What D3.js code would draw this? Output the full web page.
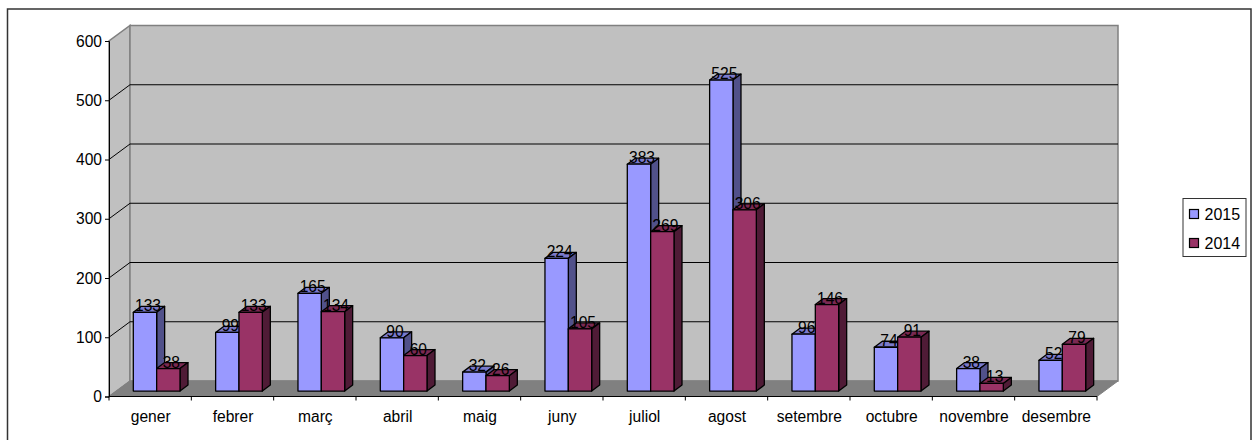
<!DOCTYPE html>
<html>
<head>
<meta charset="utf-8">
<script src="https://cdnjs.cloudflare.com/ajax/libs/d3/7.8.5/d3.min.js"></script>
<style>
html, body { margin: 0; padding: 0; background: #fff; }
svg { display: block; }
text { font-family: "Liberation Sans", Arial, sans-serif; fill: #000; }
</style>
</head>
<body>
<svg id="chart" width="1260" height="440"></svg>
<script>
var months = ["gener", "febrer", "març", "abril", "maig", "juny", "juliol", "agost", "setembre", "octubre", "novembre", "desembre"];
var values2015 = [133, 99, 165, 90, 32, 224, 383, 525, 96, 74, 38, 52];
var values2014 = [38, 133, 134, 60, 26, 105, 269, 306, 146, 91, 13, 79];
var yTicks = [0, 100, 200, 300, 400, 500, 600];
var seriesNames = ["2015", "2014"];

var svg = d3.select("#chart");

var margin = {left: 109, right: 1097, top: 41, bottom: 396.5};
var wallDx = 21, wallDy = -15.5;   // floor depth
var barDx = 8, barDy = -6;         // bar depth
var barLift = -5.4;                // bars stand a bit inside the floor
var fontSize = "15.6px";

var x = d3.scaleBand().domain(months).range([margin.left, margin.right]);
var y = d3.scaleLinear().domain([0, 600]).range([margin.bottom, margin.top]);
var inner = d3.scaleBand().domain(seriesNames).range([24.3, 71]);

var colors = {"2015": {front: "#9999ff", top: "#7a7acc", side: "#51518a"},
              "2014": {front: "#993366", top: "#7a2952", side: "#4f1b36"}};

// outer frame, its bottom edge is cut off by the page
svg.append("rect")
    .attr("x", 7.5).attr("y", 9)
    .attr("width", 1243.5).attr("height", 440)
    .attr("fill", "#fff").attr("stroke", "#333").attr("stroke-width", 1.5);

// left wall, back wall, floor
var x0 = margin.left, x1 = margin.right, y0 = y(0), yTop = y(600);
svg.append("polygon")
    .attr("points", [[x0, y0], [x0 + wallDx, y0 + wallDy], [x0 + wallDx, yTop + wallDy], [x0, yTop]].join(" "))
    .attr("fill", "#c0c0c0").attr("stroke", "#808080").attr("stroke-width", 1.5);
svg.append("rect")
    .attr("x", x0 + wallDx).attr("y", yTop + wallDy)
    .attr("width", x1 - x0).attr("height", y0 - yTop)
    .attr("fill", "#c0c0c0").attr("stroke", "#808080").attr("stroke-width", 1.5);
svg.append("polygon")
    .attr("points", [[x0, y0], [x1, y0], [x1 + wallDx, y0 + wallDy], [x0 + wallDx, y0 + wallDy]].join(" "))
    .attr("fill", "#808080").attr("stroke", "#808080");

// gridlines on wall
yTicks.slice(1, -1).forEach(function(t) {
    svg.append("polyline")
        .attr("points", [[x0, y(t)], [x0 + wallDx, y(t) + wallDy], [x1 + wallDx, y(t) + wallDy]].join(" "))
        .attr("fill", "none").attr("stroke", "#000").attr("stroke-width", 1);
});

// axes
var yAxis = d3.axisLeft(y).tickValues(yTicks).tickSize(4).tickPadding(3);
var gy = svg.append("g").attr("transform", "translate(" + x0 + ",0)").call(yAxis);
gy.selectAll("text").style("font-size", fontSize).attr("font-family", null);
gy.selectAll("line").attr("stroke", "#000");
gy.select(".domain").attr("stroke", "#000");

var gx = svg.append("g").attr("transform", "translate(0," + y0 + ")");
gx.append("line").attr("x1", x0).attr("x2", x1).attr("stroke", "#000");
gx.selectAll("line.tick")
    .data(months.concat(["end"])).enter().append("line")
    .attr("class", "tick")
    .attr("x1", function(d, i) { return x0 + i * x.bandwidth(); })
    .attr("x2", function(d, i) { return x0 + i * x.bandwidth(); })
    .attr("y1", 0).attr("y2", 4)
    .attr("stroke", "#000");
gx.selectAll("text.month")
    .data(months).enter().append("text")
    .attr("class", "month")
    .attr("x", function(d) { return x(d) + x.bandwidth() / 2 + 0.5; })
    .attr("y", 25)
    .attr("text-anchor", "middle")
    .style("font-size", fontSize)
    .text(function(d) { return d; });

// bars, back series first so the 2014 front sits over the 2015 side
function drawBars(name, vals) {
    var c = colors[name];
    var g = svg.append("g").attr("class", "series-" + name);
    var w = inner.bandwidth();
    months.forEach(function(m, i) {
        var left = x(m) + inner(name), right = left + w;
        var base = y(0) + barLift, top = y(vals[i]) + barLift;
        var b = g.append("g");
        b.append("polygon")
            .attr("points", [[left, top], [left + barDx, top + barDy], [right + barDx, top + barDy], [right, top]].join(" "))
            .attr("fill", c.top);
        b.append("polygon")
            .attr("points", [[right, top], [right + barDx, top + barDy], [right + barDx, base + barDy], [right, base]].join(" "))
            .attr("fill", c.side);
        b.append("rect")
            .attr("x", left).attr("y", top)
            .attr("width", w).attr("height", base - top)
            .attr("fill", c.front);
        b.selectAll("polygon, rect")
            .attr("stroke", "#000").attr("stroke-width", 1.3).attr("stroke-linejoin", "round");
    });
}
drawBars("2015", values2015);
drawBars("2014", values2014);

// value labels go on top of everything
function drawLabels(name, vals) {
    svg.append("g").selectAll("text")
        .data(vals).enter().append("text")
        .attr("x", function(d, i) { return x(months[i]) + inner(name) + inner.bandwidth() / 2 + 3; })
        .attr("y", function(d) { return y(d) + barLift - 1; })
        .attr("text-anchor", "middle")
        .style("font-size", fontSize)
        .text(function(d) { return d; });
}
drawLabels("2015", values2015);
drawLabels("2014", values2014);

// legend
var legend = svg.append("g");
legend.append("rect")
    .attr("x", 1183).attr("y", 198.5).attr("width", 63).attr("height", 58)
    .attr("fill", "#fff").attr("stroke", "#333");
seriesNames.forEach(function(name, i) {
    var ly = 214 + i * 29;
    legend.append("rect")
        .attr("x", 1189.5).attr("y", ly - 4.5).attr("width", 9).attr("height", 9)
        .attr("fill", colors[name].front).attr("stroke", "#000").attr("stroke-width", 1.2);
    legend.append("text")
        .attr("x", 1204.5).attr("y", ly + 5.5)
        .style("font-size", "16px")
        .text(name);
});
</script>
</body>
</html>
